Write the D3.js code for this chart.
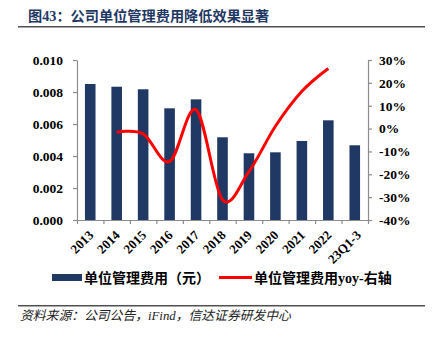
<!DOCTYPE html>
<html><head><meta charset="utf-8">
<script src="https://cdn.jsdelivr.net/npm/d3@7"></script>
<style>
html,body{margin:0;padding:0;background:#fff;}
svg{display:block;}
</style>
</head><body>
<svg id="c" width="432" height="338"></svg>
<script>
const categories = ["2013","2014","2015","2016","2017","2018","2019","2020","2021","2022","23Q1-3"];
const unitCost = [0.0085,0.00833,0.00817,0.00698,0.00754,0.00517,0.00417,0.00423,0.00494,0.00623,0.00467];
const unitCostYoY = [null,-1.6,-2.3,-14.4,8.2,-31.2,-18.8,1.0,16.3,26.3,null];
const leftTicks = [0,0.002,0.004,0.006,0.008,0.010];
const rightTicks = [-40,-30,-20,-10,0,10,20,30];
const title = "图43：公司单位管理费用降低效果显著";
const legendLabels = ["单位管理费用（元）","单位管理费用yoy-右轴"];
const source = "资料来源：公司公告，iFind，信达证券研发中心";

const svg = d3.select("#c");
const L = 77, R = 368, T = 60, B = 220;
const navy = "#1F3864", axisCol = "#8c8c8c";
const latin = "'Liberation Serif','Times New Roman',serif";
const cjk = "'Liberation Serif','Noto Sans CJK SC',serif";

// Title
svg.append("text").attr("x",28).attr("y",20.5)
  .attr("font-family",cjk).attr("font-size",14.2).attr("font-weight",600)
  .attr("fill",navy).text(title);
svg.append("line").attr("x1",18).attr("x2",425).attr("y1",26.8).attr("y2",26.8)
  .attr("stroke","#505050").attr("stroke-width",1.6);

const x = d3.scaleBand().domain(categories).range([L,R]).paddingInner(0.6).paddingOuter(0.3);
const yL = d3.scaleLinear().domain([0,0.010]).range([B,T]);
const yR = d3.scaleLinear().domain([-40,30]).range([B,T]);
const xb = d3.scaleLinear().domain([0,categories.length]).range([L,R]);

// bars
svg.append("g").selectAll("rect").data(categories).join("rect")
  .attr("x",d=>x(d)).attr("width",x.bandwidth())
  .attr("y",(d,i)=>yL(unitCost[i])).attr("height",(d,i)=>B-yL(unitCost[i]))
  .attr("fill",navy);

// axes
const gl = svg.append("g").attr("transform",`translate(${L},0)`)
  .call(d3.axisLeft(yL).tickValues(leftTicks).tickFormat(d3.format(".3f")).tickSize(4).tickSizeOuter(0).tickPadding(10));
const gr = svg.append("g").attr("transform",`translate(${R},0)`)
  .call(d3.axisRight(yR).tickValues(rightTicks).tickFormat(d=>d+"%").tickSize(4).tickSizeOuter(0).tickPadding(7));
const gb = svg.append("g").attr("transform",`translate(0,${B})`)
  .call(d3.axisBottom(xb).tickValues(d3.range(categories.length+1)).tickFormat("").tickSize(4).tickSizeOuter(0));
[gl,gr,gb].forEach(g=>{
  g.selectAll("path,line").attr("stroke",axisCol).attr("stroke-width",1.2);
  g.selectAll("text").attr("font-family",latin).attr("font-weight",700).attr("font-size",13.5).attr("fill","#000");
});

// x labels
svg.append("g").selectAll("text").data(categories).join("text")
  .attr("transform",(d,i)=>`translate(${x(d)+x.bandwidth()/2+4+(d.length>4?3:0)},${236}) rotate(-45)`)
  .attr("text-anchor","end")
  .attr("font-family",latin).attr("font-weight",700).attr("font-size",13)
  .text(d=>d);

// line
const pts = categories.map((c,i)=>({x:x(c)+x.bandwidth()/2, v:unitCostYoY[i]})).filter(p=>p.v!==null);
svg.append("path").datum(pts)
  .attr("d",d3.line().x(p=>p.x).y(p=>yR(p.v)).curve(d3.curveCatmullRom.alpha(0)))
  .attr("fill","none").attr("stroke","#FF0000").attr("stroke-width",3);

// legend
svg.append("rect").attr("x",52).attr("y",274).attr("width",30).attr("height",7).attr("fill",navy);
svg.append("text").attr("x",84).attr("y",283).attr("font-family",cjk).attr("font-weight",700)
  .attr("font-size",14).text(legendLabels[0]);
svg.append("line").attr("x1",219).attr("x2",252).attr("y1",277.5).attr("y2",277.5)
  .attr("stroke","#FF0000").attr("stroke-width",3);
svg.append("text").attr("x",254).attr("y",283).attr("font-family",cjk).attr("font-weight",700)
  .attr("font-size",14).text(legendLabels[1]);

// bottom rule and source
svg.append("line").attr("x1",18).attr("x2",425).attr("y1",305.8).attr("y2",305.8)
  .attr("stroke","#505050").attr("stroke-width",1.6);
svg.append("text").attr("x",20).attr("y",319.5).attr("font-family",cjk)
  .attr("font-style","italic").attr("font-size",12.8).attr("fill","#222").text(source);
</script>
</body></html>
